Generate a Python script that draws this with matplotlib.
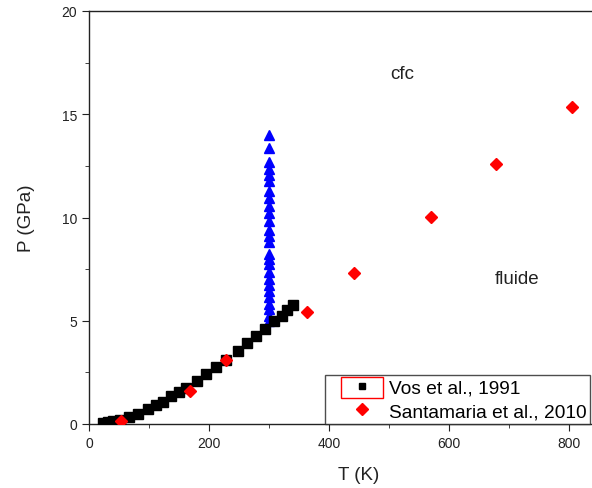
import numpy as np
import matplotlib
matplotlib.use('Agg')
import matplotlib.pyplot as plt
from matplotlib.patches import Rectangle
from matplotlib.ticker import MultipleLocator

plt.rcParams['font.family'] = ['Liberation Sans', 'DejaVu Sans']

# Vos et al., 1991 (black squares)
vos_T = [24, 32, 40, 52, 66, 82, 99, 112, 123, 136, 150, 162, 180, 195, 211,
         228, 249, 264, 279, 294, 308, 321, 330, 340]
vos_P = [0.05, 0.08, 0.13, 0.19, 0.32, 0.48, 0.73, 0.92, 1.08, 1.34, 1.53, 1.74,
         2.07, 2.41, 2.74, 3.11, 3.55, 3.91, 4.25, 4.60, 4.97, 5.25, 5.54, 5.76]

# Santamaria et al., 2010 (red diamonds)
sant_T = [53, 168, 228, 363, 442, 570, 678, 805]
sant_P = [0.16, 1.61, 3.10, 5.44, 7.31, 10.01, 12.58, 15.34]

# isotherm at 300 K (blue triangles)
iso_P = [14.0, 13.35, 12.7, 12.35, 12.05, 11.75, 11.3, 10.95, 10.55, 10.2,
         9.85, 9.4, 9.1, 8.8, 8.25, 8.0, 7.75, 7.35, 7.0, 6.75, 6.45, 6.15,
         5.8, 5.55, 5.25, 5.0]
iso_T = [300] * len(iso_P)

fig = plt.figure(figsize=(5.92, 4.89), dpi=100)
ax = fig.add_axes([89 / 592, 1 - 425 / 489, 540 / 592, 413 / 489])

ax.plot(iso_T, iso_P, linestyle='none', marker='^', color='#0000ff',
        markersize=7.5, zorder=3)
l1, = ax.plot(vos_T, vos_P, linestyle='none', marker='s', color='black',
              markersize=7, zorder=4, label='Vos et al., 1991')
l2, = ax.plot(sant_T, sant_P, linestyle='none', marker='D', color='#ff0000',
              markersize=6.5, zorder=5, label='Santamaria et al., 2010')

ax.set_xlim(0, 900)
ax.set_ylim(0, 20)
ax.xaxis.set_major_locator(MultipleLocator(200))
ax.xaxis.set_minor_locator(MultipleLocator(100))
ax.yaxis.set_major_locator(MultipleLocator(5))
ax.yaxis.set_minor_locator(MultipleLocator(2.5))
ax.tick_params(which='both', direction='out', top=False, right=False,
               colors='#222222', labelsize=10)
ax.tick_params(which='major', length=5)
ax.tick_params(which='minor', length=3)
for s in ax.spines.values():
    s.set_color('#222222')
    s.set_linewidth(1)

ax.set_xlabel('T (K)', fontsize=13.5, color='#222222', labelpad=12)
ax.set_ylabel('P (GPa)', fontsize=13.5, color='#222222', labelpad=19)

ax.text(522, 16.95, 'cfc', fontsize=13.5, color='#222222', ha='center', va='center')
ax.text(713, 7.07, 'fluide', fontsize=13.5, color='#222222', ha='center', va='center')

leg = ax.legend(handles=[l1, l2], loc='lower left',
                bbox_to_anchor=((325 - 89) / 540, 0.0), fontsize=13.8,
                frameon=True, fancybox=False, borderpad=0.2,
                handlelength=2.73, handletextpad=0.4, labelspacing=0.33,
                borderaxespad=0)
leg.get_frame().set_edgecolor('#222222')
leg.get_frame().set_linewidth(1)
leg.legend_handles[0].set_markersize(4.5)
# move legend markers a bit to the right, closer to their labels
for h in leg.legend_handles:
    h.set_xdata(np.asarray(h.get_xdata()) + 5.0)

fig.add_artist(Rectangle((340.7 / 592, 1 - 399 / 489), 42.6 / 592, 21 / 489,
                         transform=fig.transFigure, fill=False,
                         edgecolor='#ff0000', linewidth=1))

fig.savefig('out.png', dpi=100)
